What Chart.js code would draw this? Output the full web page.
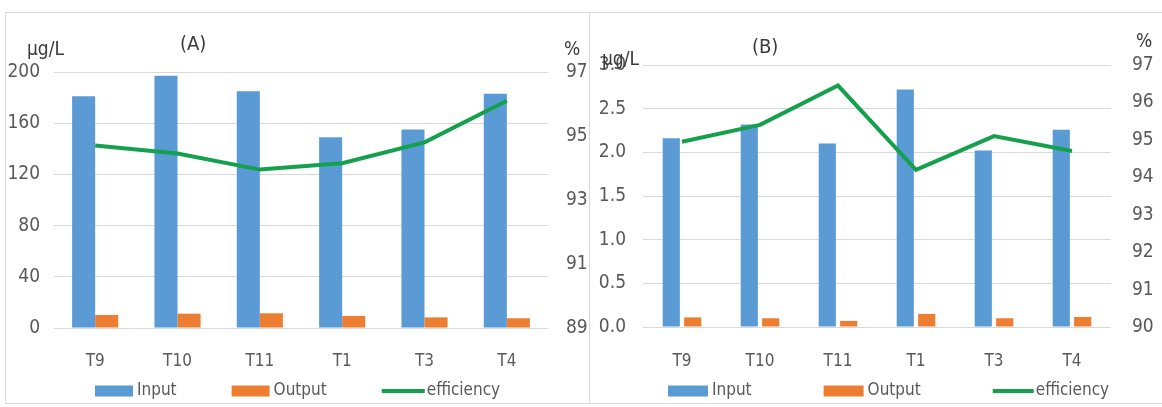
<!DOCTYPE html>
<html>
<head>
<meta charset="utf-8">
<script src="https://cdn.jsdelivr.net/npm/chart.js@4.4.1/dist/chart.umd.min.js"></script>
<style>
  html, body { margin: 0; padding: 0; background: #fff; }
  body { width: 1162px; height: 407px; position: relative; overflow: hidden; }
  .panel { position: absolute; top: 12px; height: 390px; border: 1px solid #d9d9d9; }
  #panelA { left: 5px; width: 583px; border-right: none; }
  #panelB { left: 589px; width: 572px; }
  canvas { display: block; }
</style>
</head>
<body>
<div class="panel" id="panelA"><canvas id="chartA" width="583" height="390"></canvas></div>
<div class="panel" id="panelB"><canvas id="chartB" width="572" height="390"></canvas></div>
<script>
// data
var categories = ['T9', 'T10', 'T11', 'T1', 'T3', 'T4'];

var inputA = [181, 197, 185, 149, 155, 183];
var outputA = [10.2, 11.2, 11.5, 9.4, 8.3, 7.6];
var efficiencyA = [94.7, 94.45, 93.95, 94.15, 94.8, 96.1];

var inputB = [2.16, 2.32, 2.10, 2.72, 2.02, 2.26];
var outputB = [0.11, 0.10, 0.07, 0.15, 0.10, 0.115];
var efficiencyB = [94.95, 95.4, 96.45, 94.2, 95.1, 94.7];

var seriesNames = ['Input', 'Output', 'efficiency'];

var BLUE = '#5b9bd5';
var ORANGE = '#ed7d31';
var GREEN = '#14a04c';
var FONT = "'DejaVu Sans Condensed', 'Liberation Sans Narrow', sans-serif";
var TICK = '#595959';

// free text round the plot (unit labels, panel letter)
var panelText = {
  id: 'panelText',
  afterDraw: function (chart, args, opts) {
    var ctx = chart.ctx;
    ctx.save();
    ctx.fillStyle = opts.color;
    ctx.textBaseline = 'middle';
    ctx.textAlign = 'left';
    opts.items.forEach(function (it) {
      ctx.font = it.size + 'px ' + FONT;
      ctx.fillText(it.text, it.x, it.y);
    });
    ctx.restore();
  }
};

// legend with its own spacing, taken from the datasets
var panelLegend = {
  id: 'panelLegend',
  afterDraw: function (chart, args, opts) {
    var ctx = chart.ctx;
    var x = opts.x, y = opts.y;
    ctx.save();
    ctx.font = opts.size + 'px ' + FONT;
    ctx.textBaseline = 'middle';
    ctx.textAlign = 'left';
    chart.data.datasets.forEach(function (ds) {
      if (ds.type === 'line') {
        ctx.strokeStyle = ds.borderColor;
        ctx.lineWidth = ds.borderWidth;
        ctx.beginPath();
        ctx.moveTo(x, y);
        ctx.lineTo(x + opts.lineW, y);
        ctx.stroke();
        x += opts.lineW + 2;
      } else {
        ctx.fillStyle = ds.backgroundColor;
        ctx.fillRect(x, y - opts.boxH / 2, opts.boxW, opts.boxH);
        x += opts.boxW + 4;
      }
      ctx.fillStyle = TICK;
      ctx.fillText(ds.label, x, y);
      x += ctx.measureText(ds.label).width + opts.gap;
    });
    ctx.restore();
  }
};

function buildChart(id, c) {
  var ctx = document.getElementById(id).getContext('2d');
  return new Chart(ctx, {
    type: 'bar',
    data: {
      labels: categories,
      datasets: [{
        label: seriesNames[0],
        data: c.input,
        backgroundColor: BLUE,
        yAxisID: 'y',
        order: 1,
        categoryPercentage: c.catPct,
        barPercentage: c.barPct
      }, {
        label: seriesNames[1],
        data: c.output,
        backgroundColor: ORANGE,
        yAxisID: 'y',
        order: 1,
        categoryPercentage: c.catPct,
        barPercentage: c.barPct
      }, {
        type: 'line',
        label: seriesNames[2],
        data: c.efficiency,
        borderColor: GREEN,
        backgroundColor: GREEN,
        borderWidth: 4,
        pointRadius: 0,
        tension: 0,
        fill: false,
        yAxisID: 'y1',
        order: 0
      }]
    },
    options: {
      responsive: false,
      animation: false,
      layout: { padding: { top: c.top, left: 0, right: 0, bottom: 0 } },
      plugins: {
        legend: { display: false },
        tooltip: { enabled: false },
        panelText: { color: '#3a3a3a', items: c.texts },
        panelLegend: c.legend
      },
      scales: {
        x: {
          grid: { display: false },
          border: { display: false },
          ticks: { color: TICK, font: { family: FONT, size: 17 }, padding: c.xPad },
          afterFit: function (s) { s.height = c.xHeight; }
        },
        y: {
          position: 'left',
          min: c.left.min,
          max: c.left.max,
          grid: { color: '#d9d9d9', drawTicks: false },
          border: { display: false },
          ticks: {
            stepSize: c.left.step,
            color: TICK,
            font: { family: FONT, size: 19 },
            padding: c.left.pad,
            callback: function (v) { return v.toFixed(c.left.dec); }
          },
          afterFit: function (s) { s.width = c.left.width; }
        },
        y1: {
          position: 'right',
          min: c.right.min,
          max: c.right.max,
          grid: { display: false, drawTicks: false },
          border: { display: false },
          ticks: {
            stepSize: c.right.step,
            color: TICK,
            font: { family: FONT, size: 19 },
            padding: c.right.pad
          },
          afterFit: function (s) { s.width = c.right.width; }
        }
      }
    },
    plugins: [panelText, panelLegend]
  });
}

buildChart('chartA', {
  input: inputA, output: outputA, efficiency: efficiencyA,
  catPct: 0.56, barPct: 1.0,
  top: 59, xHeight: 75, xPad: 15,
  left: { min: 0, max: 200, step: 40, dec: 0, pad: 14, width: 48 },
  right: { min: 89, max: 97, step: 2, pad: 18, width: 41 },
  texts: [
    { text: 'μg/L', x: 21, y: 37, size: 19 },
    { text: '(A)', x: 174, y: 32, size: 20 },
    { text: '%', x: 558, y: 37, size: 19 }
  ],
  legend: { x: 89, y: 378, size: 17, boxW: 38, boxH: 11, lineW: 43, gap: 55 }
});

buildChart('chartB', {
  input: inputB, output: outputB, efficiency: efficiencyB,
  catPct: 0.55, barPct: 0.8,
  top: 52, xHeight: 76, xPad: 16,
  left: { min: 0, max: 3, step: 0.5, dec: 1, pad: 17, width: 53 },
  right: { min: 90, max: 97, step: 1, pad: 21, width: 51 },
  texts: [
    { text: 'μg/L', x: 12, y: 47, size: 19 },
    { text: '(B)', x: 162, y: 35, size: 20 },
    { text: '%', x: 546, y: 29, size: 19 }
  ],
  legend: { x: 78, y: 378, size: 17, boxW: 40, boxH: 11, lineW: 41, gap: 72 }
});
</script>
</body>
</html>
